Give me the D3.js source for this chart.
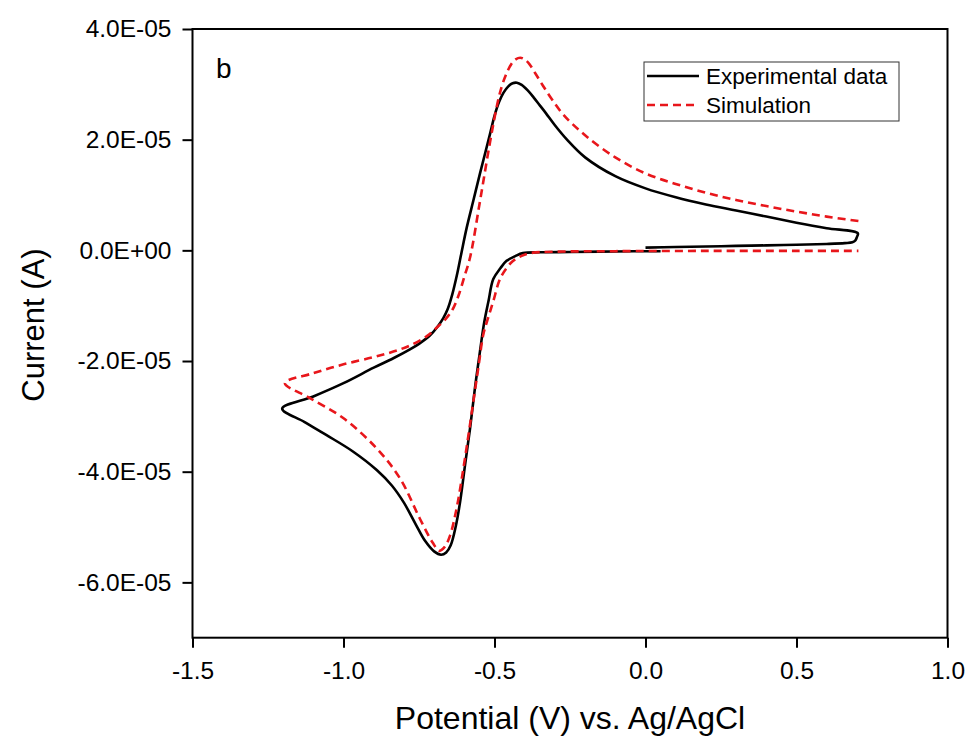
<!DOCTYPE html>
<html><head><meta charset="utf-8">
<script src="https://cdn.jsdelivr.net/npm/d3@7/dist/d3.min.js"></script>
<style>body{margin:0;background:#fff;} text{font-family:Arial,"Liberation Sans",sans-serif;fill:#000;}</style>
</head><body>
<svg id="chart" width="969" height="740"></svg>
<script>
// Experimental CV: potential (V) and current (A)
const expPotential = [0.000,0.10,0.20,0.30,0.40,0.50,0.60,0.66,0.685,0.695,0.700,0.703,
  0.60,0.50,0.40,0.30,0.20,0.10,0.0,-0.10,-0.20,-0.26,-0.30,-0.33,-0.35,-0.37,-0.39,-0.41,-0.426,-0.44,-0.455,-0.47,-0.485,-0.50,-0.515,-0.548,-0.570,-0.592,-0.610,-0.625,-0.640,-0.655,-0.670,-0.690,-0.714,-0.750,-0.780,-0.835,-0.90,-1.0,-1.10,-1.203,
  -1.13,-1.056,-0.97,-0.89,-0.84,-0.80,-0.76,-0.73,-0.70,-0.677,-0.660,-0.645,-0.628,-0.614,-0.598,-0.581,-0.565,-0.548,-0.534,-0.520,-0.504,-0.48,-0.46,-0.43,-0.406,-0.35,-0.25,-0.10,0.05];
const expCurrent = [0.5e-6,0.6e-6,0.7e-6,0.8e-6,0.9e-6,1.0e-6,1.15e-6,1.3e-6,1.45e-6,1.8e-6,2.4e-6,3.1e-6,
  4.0e-6,5.0e-6,6.1e-6,7.2e-6,8.3e-6,9.6e-6,11.2e-6,13.4e-6,16.8e-6,20.0e-6,22.6e-6,24.8e-6,26.2e-6,27.6e-6,28.9e-6,29.9e-6,30.3e-6,30.2e-6,29.6e-6,28.5e-6,26.8e-6,24.3e-6,21.0e-6,13.9e-6,9.0e-6,4.1e-6,-0.6e-6,-4.6e-6,-8.0e-6,-10.6e-6,-12.3e-6,-13.9e-6,-15.4e-6,-16.9e-6,-17.9e-6,-19.5e-6,-21.2e-6,-24.0e-6,-26.4e-6,-28.6e-6,
  -31.0e-6,-33.4e-6,-36.3e-6,-39.7e-6,-42.5e-6,-45.6e-6,-49.6e-6,-52.5e-6,-54.4e-6,-55.0e-6,-54.6e-6,-53.3e-6,-49.8e-6,-45.5e-6,-39.0e-6,-32.2e-6,-25.0e-6,-18.2e-6,-13.0e-6,-9.2e-6,-5.2e-6,-3.2e-6,-1.9e-6,-1.0e-6,-0.5e-6,-0.35e-6,-0.3e-6,-0.2e-6,-0.15e-6];

// Simulated CV
const simPotential = [0.705,0.60,0.50,0.40,0.30,0.20,0.10,0.0,-0.10,-0.20,-0.27,-0.31,-0.34,-0.365,-0.385,-0.40,-0.415,-0.43,-0.445,-0.46,-0.475,-0.49,-0.515,-0.548,-0.581,-0.60,-0.62,-0.64,-0.66,-0.69,-0.724,-0.78,-0.835,-0.90,-1.0,-1.10,-1.194,
  -1.111,-1.001,-0.890,-0.813,-0.747,-0.705,-0.683,-0.665,-0.647,-0.625,-0.603,-0.586,-0.570,-0.553,-0.537,-0.520,-0.504,-0.482,-0.46,-0.438,-0.41,-0.382,-0.30,-0.10,0.20,0.50,0.705];
const simCurrent = [5.3e-6,6.1e-6,7.0e-6,8.0e-6,9.1e-6,10.4e-6,12.0e-6,13.9e-6,16.8e-6,20.8e-6,24.4e-6,27.3e-6,29.8e-6,32.0e-6,33.7e-6,34.5e-6,34.8e-6,34.5e-6,33.6e-6,32.0e-6,29.8e-6,26.6e-6,19.5e-6,8.9e-6,-1.3e-6,-4.8e-6,-8.3e-6,-10.8e-6,-12.3e-6,-13.9e-6,-15.5e-6,-17.2e-6,-18.3e-6,-19.3e-6,-20.6e-6,-22.2e-6,-24.0e-6,
  -26.7e-6,-30.3e-6,-35.8e-6,-41.2e-6,-48.5e-6,-52.8e-6,-54.3e-6,-53.6e-6,-51.5e-6,-46.5e-6,-39.4e-6,-33.3e-6,-27.3e-6,-21.0e-6,-15.2e-6,-12.0e-6,-9.2e-6,-5.2e-6,-3.2e-6,-1.9e-6,-1.0e-6,-0.5e-6,-0.25e-6,-0.15e-6,-0.1e-6,-0.1e-6,-0.1e-6];

const xTicks = [-1.5,-1.0,-0.5,0.0,0.5,1.0];
const xTickLabels = ["-1.5","-1.0","-0.5","0.0","0.5","1.0"];
const yTicks = [4e-5,2e-5,0,-2e-5,-4e-5,-6e-5];
const yTickLabels = ["4.0E-05","2.0E-05","0.0E+00","-2.0E-05","-4.0E-05","-6.0E-05"];
const seriesNames = ["Experimental data","Simulation"];

const svg = d3.select("#chart");
const L = 192.5, R = 947.5, T = 29, B = 637.7;
const x = d3.scaleLinear().domain([-1.5, 1.0]).range([L, R]);
const y = d3.scaleLinear().domain([-7e-5, 4e-5]).range([B, T]);

const line = d3.line().x(d => x(d[0])).y(d => y(d[1])).curve(d3.curveCatmullRom.alpha(0.5));
const expData = expPotential.map((v,i) => [v, expCurrent[i]]);
const simData = simPotential.map((v,i) => [v, simCurrent[i]]);

svg.append("path").attr("d", line(expData)).attr("fill","none").attr("stroke","#000").attr("stroke-width",2.6).attr("stroke-linejoin","round");
svg.append("path").attr("d", line(simData)).attr("fill","none").attr("stroke","#e8161b").attr("stroke-width",2.6).attr("stroke-dasharray","8,5");

// frame
svg.append("rect").attr("x",L).attr("y",T).attr("width",R-L).attr("height",B-T).attr("fill","none").attr("stroke","#000").attr("stroke-width",2);

// axes
const xAxis = d3.axisBottom(x).tickValues(xTicks).tickFormat((d,i)=>xTickLabels[i]).tickSize(10).tickPadding(14);
const gx = svg.append("g").attr("transform",`translate(0,${B})`).call(xAxis);
const yAxis = d3.axisLeft(y).tickValues(yTicks).tickFormat((d,i)=>yTickLabels[i]).tickSize(10).tickPadding(11);
const gy = svg.append("g").attr("transform",`translate(${L},0)`).call(yAxis);
[gx,gy].forEach(g=>{
  g.select(".domain").remove();
  g.selectAll(".tick line").attr("stroke","#000").attr("stroke-width",2);
  g.selectAll(".tick text").style("font-size","24.5px").attr("fill","#000");
});

// axis titles
svg.append("text").attr("x",(L+R)/2).attr("y",729).attr("text-anchor","middle").style("font-size","32px").text("Potential (V) vs. Ag/AgCl");
svg.append("text").attr("transform","translate(44,325) rotate(-90)").attr("text-anchor","middle").style("font-size","31px").text("Current (A)");

// panel label
svg.append("text").attr("x",216).attr("y",78).style("font-size","28px").text("b");

// legend
const lg = svg.append("g");
lg.append("rect").attr("x",644).attr("y",62).attr("width",255).attr("height",59).attr("fill","#fff").attr("stroke","#333").attr("stroke-width",1);
lg.append("line").attr("x1",647).attr("x2",699).attr("y1",76).attr("y2",76).attr("stroke","#000").attr("stroke-width",2.6);
lg.append("line").attr("x1",647).attr("x2",699).attr("y1",105).attr("y2",105).attr("stroke","#e8161b").attr("stroke-width",2.6).attr("stroke-dasharray","8,5");
lg.append("text").attr("x",706).attr("y",84).style("font-size","22.5px").text(seriesNames[0]);
lg.append("text").attr("x",706).attr("y",113).style("font-size","22.5px").text(seriesNames[1]);
</script>
</body></html>
